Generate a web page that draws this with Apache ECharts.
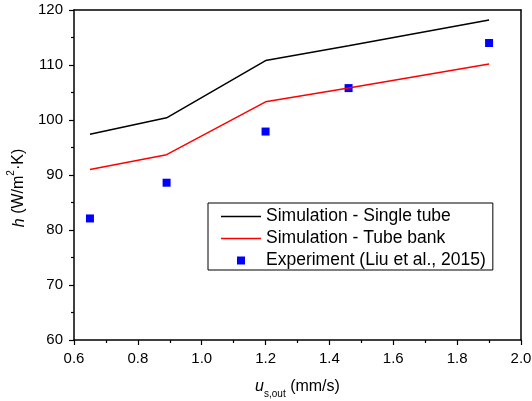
<!DOCTYPE html>
<html>
<head>
<meta charset="UTF-8">
<title>h vs u</title>
<script src="https://cdn.jsdelivr.net/npm/echarts@6/dist/echarts.min.js"></script>
<style>
  html, body { margin: 0; padding: 0; background: #fff; }
</style>
</head>
<body>
<div id="chart" style="width: 532px; height: 401px;"></div>
<script>
// values
const xSim = [0.65, 0.89, 1.2, 1.46, 1.9];
const singleTube = [97.4, 100.4, 110.8, 113.5, 118.2];
const tubeBank = [91.0, 93.7, 103.3, 105.8, 110.2];
const xExp = [0.65, 0.89, 1.2, 1.46, 1.9];
const experiment = [82.1, 88.6, 97.9, 105.8, 114.0];
const legendNames = ['Simulation - Single tube', 'Simulation - Tube bank', 'Experiment (Liu et al., 2015)'];

const font = 'Liberation Sans, Arial, sans-serif';

let chart = echarts.init(document.getElementById('chart'));

let axisLine = { lineStyle: { color: '#000', width: 1.5 } };
let lineIcon = 'path://M0 0H40V1.5H0Z';
let squareIcon = 'path://M0 0H8V8H0Z';

let option = {
    animation: false,
    textStyle: { fontFamily: font },
    grid: { left: 74, right: 11, top: 10, bottom: 61, outerBoundsMode: 'none' },
    legend: {
        orient: 'vertical',
        left: 208,
        top: 203,
        padding: [4, 7, 0, 13],
        itemGap: 3,
        itemWidth: 40,
        itemHeight: 8,
        borderColor: '#000',
        borderWidth: 1,
        textStyle: { fontSize: 17.5, lineHeight: 19, color: '#000', fontFamily: font },
        data: [
            { name: legendNames[0], icon: lineIcon },
            { name: legendNames[1], icon: lineIcon },
            { name: legendNames[2], icon: squareIcon }
        ]
    },
    xAxis: [{
        type: 'value',
        min: 0.6,
        max: 2.0,
        interval: 0.2,
        axisLine: axisLine,
        axisTick: { length: 5, lineStyle: { color: '#000', width: 1.2 } },
        minorTick: { show: true, splitNumber: 2, length: 3, lineStyle: { color: '#000', width: 1.2 } },
        splitLine: { show: false },
        axisLabel: {
            color: '#000', fontSize: 15, margin: 11,
            formatter: v => v.toFixed(1)
        },
        name: '{i|u}{sub|s,out} (mm/s)',
        nameLocation: 'middle',
        nameGap: 39,
        nameTextStyle: {
            fontSize: 16, color: '#000',
            rich: {
                i: { fontStyle: 'italic', fontSize: 16, color: '#000' },
                sub: { fontSize: 10, color: '#000', verticalAlign: 'bottom', padding: [0, 0, -4, 0] }
            }
        }
    }, {
        type: 'value',
        position: 'top',
        min: 0.6,
        max: 2.0,
        interval: 0.2,
        axisLine: axisLine,
        axisTick: { show: false },
        axisLabel: { show: false },
        splitLine: { show: false }
    }],
    yAxis: [{
        type: 'value',
        min: 60,
        max: 120,
        interval: 10,
        axisLine: axisLine,
        axisTick: { length: 5, lineStyle: { color: '#000', width: 1.2 } },
        minorTick: { show: true, splitNumber: 2, length: 3, lineStyle: { color: '#000', width: 1.2 } },
        splitLine: { show: false },
        axisLabel: { color: '#000', fontSize: 15, margin: 11 },
        name: '{i|h} (W/m{sup|2}·K)',
        nameLocation: 'middle',
        nameGap: 43,
        nameTextStyle: {
            fontSize: 16, color: '#000',
            padding: [0, 26, 0, 0],
            rich: {
                i: { fontStyle: 'italic', fontSize: 16, color: '#000' },
                sup: { fontSize: 10, color: '#000', verticalAlign: 'top', padding: [-5, 0, 0, 0] }
            }
        }
    }, {
        type: 'value',
        position: 'right',
        min: 60,
        max: 120,
        interval: 10,
        axisLine: axisLine,
        axisTick: { show: false },
        axisLabel: { show: false },
        splitLine: { show: false }
    }],
    series: [{
        name: legendNames[0],
        type: 'line',
        symbol: 'none',
        lineStyle: { color: '#000', width: 1.5 },
        itemStyle: { color: '#000' },
        data: xSim.map((x, i) => [x, singleTube[i]])
    }, {
        name: legendNames[1],
        type: 'line',
        symbol: 'none',
        lineStyle: { color: '#ff0000', width: 1.5 },
        itemStyle: { color: '#ff0000' },
        data: xSim.map((x, i) => [x, tubeBank[i]])
    }, {
        name: legendNames[2],
        type: 'scatter',
        symbol: 'rect',
        symbolSize: 8,
        itemStyle: { color: '#0000ff', opacity: 1 },
        data: xExp.map((x, i) => [x, experiment[i]])
    }]
};

chart.setOption(option);
</script>
</body>
</html>
